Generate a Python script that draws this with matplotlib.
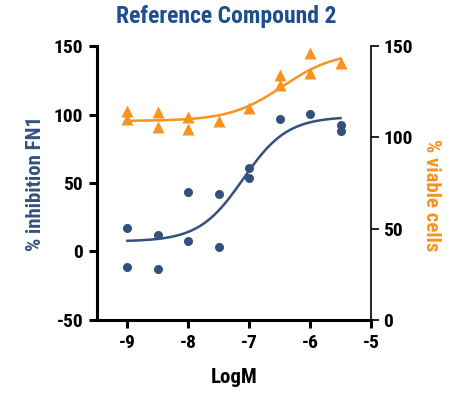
import numpy as np
import matplotlib
matplotlib.use("Agg")
import matplotlib.pyplot as plt

plt.rcParams['font.family'] = ['Roboto Condensed', 'DejaVu Sans']
plt.rcParams['axes.unicode_minus'] = False

BLUE = "#34507e"
ORANGE = "#f7931e"
TITLE_BLUE = "#1f4e8c"

# inhibition (left axis)
inh_x = [-9, -9, -8.5, -8.5, -8, -8, -7.5, -7.5, -7, -7, -6.5, -6, -5.5, -5.5]
inh_y = [17, -11.5, 11.7, -13, 43.6, 7.5, 42, 3.6, 61, 53.3, 96.8, 100.5, 92.5, 88.3]
# viability (right axis)
via_x = [-9, -9, -8.5, -8.5, -8, -8, -7.5, -7, -6.5, -6.5, -6, -6, -5.5]
via_y = [114.4, 110, 114, 105.8, 111.3, 104.4, 109.1, 115.9, 134, 128.6, 146, 135.4, 140.5]

# 4PL fit params: bottom, top, logEC50, hill
inh_fit = [7.3, 98.5, -7.1, 1.2]
via_fit = [109, 147, -6.45, 1.0]

x_ticks = [-9, -8, -7, -6, -5]
left_ticks = [-50, 0, 50, 100, 150]
right_ticks = [0, 50, 100, 150]


def four_pl(x, p):
    b, t, ec, h = p
    return b + (t - b) / (1 + 10 ** ((ec - x) * h))


fig = plt.figure(figsize=(4.53, 3.94), dpi=100)
ax = fig.add_axes([0.214, 0.188, 0.605, 0.695])
ax2 = ax.twinx()

xs = np.linspace(-9, -5.5, 200)
ax.plot(xs, four_pl(xs, inh_fit), color=BLUE, lw=1.8, zorder=2)
ax.plot(inh_x, inh_y, 'o', color=BLUE, ms=6.5, mec='none', zorder=3)

ax2.plot(xs, four_pl(xs, via_fit), color=ORANGE, lw=1.8, zorder=2)
ax2.plot(via_x, via_y, '^', color=ORANGE, ms=8, mec='none', zorder=3)

ax.set_xlim(-9.5, -5)
ax.set_ylim(-50, 150)
ax2.set_ylim(0, 150)

ax.set_xticks(x_ticks)
ax.set_yticks(left_ticks)
ax2.set_yticks(right_ticks)

for a in (ax, ax2):
    a.spines['top'].set_visible(False)
ax.spines['right'].set_visible(False)
ax2.spines['left'].set_visible(False)
ax2.spines['bottom'].set_visible(False)
ax.spines['left'].set_linewidth(2.2)
ax.spines['bottom'].set_linewidth(2.2)
ax2.spines['right'].set_linewidth(1.2)

ax.tick_params(axis='both', direction='out', length=6, width=2.2, labelsize=14, pad=4)
ax2.tick_params(axis='y', direction='out', length=6, width=1.2, labelsize=14, pad=3)
for lab in ax.get_xticklabels() + ax.get_yticklabels() + ax2.get_yticklabels():
    lab.set_fontweight('bold')

ax.set_xlabel("LogM", fontsize=15, fontweight='bold', labelpad=12)
ax.set_ylabel("% inhibition FN1", fontsize=15, fontweight='bold', color=BLUE, labelpad=6)
ax2.set_ylabel("% viable cells", fontsize=15, fontweight='bold', color=ORANGE,
               rotation=270, va='center')
ax2.yaxis.set_label_coords(1.22, 0.455)

fig.text(0.5, 0.957, "Reference Compound 2", ha='center', va='center',
         fontsize=17, fontweight='bold', color=TITLE_BLUE)

fig.savefig("out.png", dpi=100)
